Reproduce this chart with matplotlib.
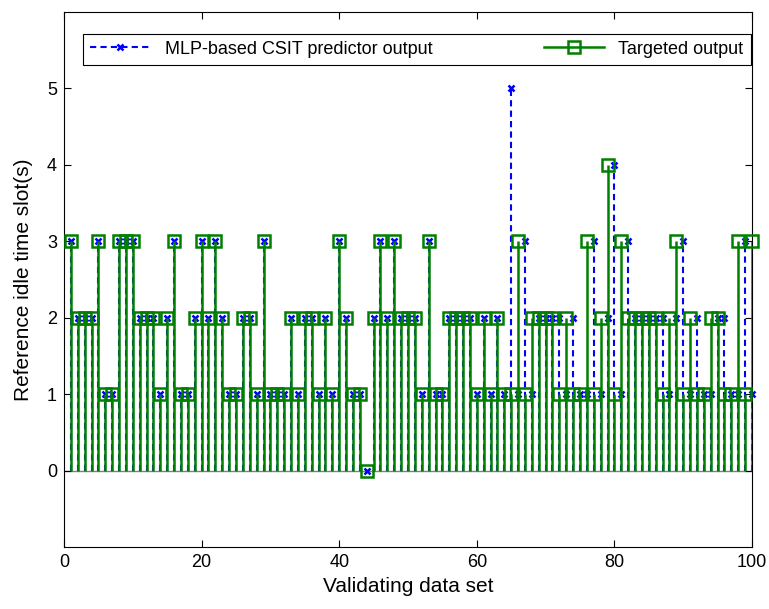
import matplotlib
matplotlib.use("Agg")
import matplotlib.pyplot as plt
from matplotlib.lines import Line2D
import numpy as np

plt.rcParams['font.family'] = ['Liberation Sans', 'DejaVu Sans']

# --- data ---
data_set = np.arange(1, 101)

targeted = [3, 2, 2, 2, 3, 1, 1, 3, 3, 3,
            2, 2, 2, 1, 2, 3, 1, 1, 2, 3,
            2, 3, 2, 1, 1, 2, 2, 1, 3, 1,
            1, 1, 2, 1, 2, 2, 1, 2, 1, 3,
            2, 1, 1, 0, 2, 3, 2, 3, 2, 2,
            2, 1, 3, 1, 1, 2, 2, 2, 2, 1,
            2, 1, 2, 1, 1, 3, 1, 2, 2, 2,
            2, 1, 2, 1, 1, 3, 1, 2, 4, 1,
            3, 2, 2, 2, 2, 2, 1, 2, 3, 1,
            2, 1, 1, 2, 2, 1, 1, 3, 1, 3]

predicted = [3, 2, 2, 2, 3, 1, 1, 3, 3, 3,
             2, 2, 2, 1, 2, 3, 1, 1, 2, 3,
             2, 3, 2, 1, 1, 2, 2, 1, 3, 1,
             1, 1, 2, 1, 2, 2, 1, 2, 1, 3,
             2, 1, 1, 0, 2, 3, 2, 3, 2, 2,
             2, 1, 3, 1, 1, 2, 2, 2, 2, 1,
             2, 1, 2, 1, 5, 1, 3, 1, 2, 2,
             2, 2, 1, 2, 1, 1, 3, 1, 2, 4,
             1, 3, 2, 2, 2, 2, 2, 1, 2, 3,
             1, 2, 1, 1, 2, 2, 1, 1, 3, 1]

x_ticks = [0, 20, 40, 60, 80, 100]
y_ticks = [0, 1, 2, 3, 4, 5]

blue = (0, 0, 1)
green = (0, 0.5, 0)

fig = plt.figure(figsize=(7.69, 6.09), dpi=100)
ax = fig.add_axes([64 / 769, 62 / 609, 688 / 769, 535 / 609])

# predictor output (dashed blue stems, x markers)
m1, s1, b1 = ax.stem(data_set, predicted, basefmt=' ')
s1.set_color(blue)
s1.set_linewidth(1.5)
s1.set_linestyle((0, (3, 2)))
s1.set_zorder(2)
m1.set_marker('x')
m1.set_color(blue)
m1.set_markersize(5)
m1.set_markeredgewidth(1.8)
m1.set_zorder(3)
m1.set_clip_on(False)

# targeted output (solid green stems, hollow squares)
m2, s2, b2 = ax.stem(data_set, targeted, basefmt=' ')
s2.set_color(green)
s2.set_linewidth(1.8)
s2.set_zorder(4)
m2.set_marker('s')
m2.set_markerfacecolor('none')
m2.set_markeredgecolor(green)
m2.set_markersize(8)
m2.set_markeredgewidth(1.8)
m2.set_zorder(5)
m2.set_clip_on(False)

ax.axhline(0, color='0.5', linewidth=1, zorder=1)

ax.set_xlim(0, 100)
ax.set_ylim(-1, 6)
ax.set_xticks(x_ticks)
ax.set_yticks(y_ticks)
ax.tick_params(direction='in', top=True, right=True, length=5, labelsize=13, pad=5)
ax.set_xlabel('Validating data set', fontsize=15, labelpad=4)
ax.set_ylabel('Reference idle time slot(s)', fontsize=15, labelpad=10)

handles = [
    Line2D([], [], color=blue, linestyle=(0, (3, 2)), linewidth=1.5,
           marker='x', markersize=5, markeredgewidth=1.8),
    Line2D([], [], color=green, linewidth=1.8, marker='s', markersize=8,
           markerfacecolor='none', markeredgewidth=1.8),
]
labels = ['MLP-based CSIT predictor output', 'Targeted output']
leg = ax.legend(handles, labels, ncol=2, loc='lower left', mode='expand',
                bbox_to_anchor=(0.028, 0.901, 0.97, 0.069), borderaxespad=0,
                fancybox=False, framealpha=1, edgecolor='black', fontsize=13,
                handlelength=3.3, handletextpad=0.8, columnspacing=1.5)
leg.get_frame().set_linewidth(0.8)

fig.savefig('out.png', dpi=100)
